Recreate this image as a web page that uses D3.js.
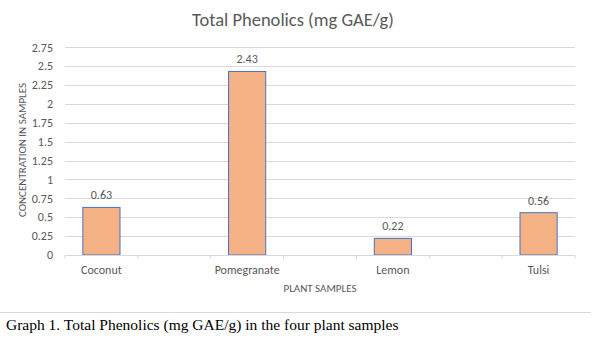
<!DOCTYPE html>
<html><head><meta charset="utf-8">
<script src="https://cdn.jsdelivr.net/npm/d3@7/dist/d3.min.js"></script>
<style>body{margin:0;background:#fff}svg{display:block}</style>
</head><body>
<svg id="c" width="600" height="340"></svg>
<script>
const categories = ["Coconut", "", "Pomegranate", "", "Lemon", "", "Tulsi"];
const values = [0.63, null, 2.43, null, 0.22, null, 0.56];
const yTicks = [0, 0.25, 0.5, 0.75, 1, 1.25, 1.5, 1.75, 2, 2.25, 2.5, 2.75];
const yTickLabels = ["0", "0.25", "0.5", "0.75", "1", "1.25", "1.5", "1.75", "2", "2.25", "2.5", "2.75"];
const valueLabels = ["0.63", "", "2.43", "", "0.22", "", "0.56"];

const svg = d3.select("#c");
const font = "Carlito, Lato, 'Open Sans', 'Liberation Sans', sans-serif";
const grey = "#595959";
const pL = 65, pR = 575, pT = 47.3, pB = 255;

const x = d3.scaleBand().domain(d3.range(categories.length)).range([pL, pR]).paddingInner(0).paddingOuter(0);
const y = d3.scaleLinear().domain([0, 2.75]).range([pB, pT]);

// gridlines
svg.append("g").selectAll("line").data(yTicks.slice(1)).join("line")
  .attr("x1", pL).attr("x2", pR)
  .attr("y1", d => Math.round(y(d)) + 0.5).attr("y2", d => Math.round(y(d)) + 0.5)
  .attr("stroke", "#d9d9d9").attr("stroke-width", 1);

// y tick labels
svg.append("g").selectAll("text").data(yTicks).join("text")
  .attr("x", 53).attr("y", d => y(d)).attr("dy", "0.35em")
  .attr("text-anchor", "end").attr("font-family", font).attr("font-size", 12)
  .attr("fill", grey).text((d, i) => yTickLabels[i]);

// bars
const bw = x.bandwidth() * 0.51;
svg.append("g").selectAll("rect").data(values.map((v, i) => ({v, i})).filter(d => d.v !== null)).join("rect")
  .attr("x", d => x(d.i) + (x.bandwidth() - bw) / 2)
  .attr("y", d => y(d.v))
  .attr("width", bw)
  .attr("height", d => y(0) - y(d.v))
  .attr("fill", "#f4b183").attr("stroke", "#4472c4").attr("stroke-width", 1);

// x axis line + ticks
const xa = svg.append("g");
xa.append("line").attr("x1", pL).attr("x2", pR).attr("y1", pB + 0.5).attr("y2", pB + 0.5)
  .attr("stroke", "#d9d9d9");
const bounds = d3.range(categories.length + 1).map(i => i < categories.length ? x(i) : pR);
xa.selectAll("line.t").data(bounds).join("line").attr("class", "t")
  .attr("x1", d => d).attr("x2", d => d).attr("y1", pB).attr("y2", pB + 4)
  .attr("stroke", "#d9d9d9");

// category labels
svg.append("g").selectAll("text").data(categories).join("text")
  .attr("x", (d, i) => x(i) + x.bandwidth() / 2).attr("y", 274)
  .attr("text-anchor", "middle").attr("font-family", font).attr("font-size", 12)
  .attr("fill", grey).text(d => d);

// value labels
svg.append("g").selectAll("text").data(values.map((v, i) => ({v, i})).filter(d => d.v !== null)).join("text")
  .attr("x", d => x(d.i) + x.bandwidth() / 2).attr("y", d => y(d.v) - 8)
  .attr("text-anchor", "middle").attr("font-family", font).attr("font-size", 12)
  .attr("fill", grey).text(d => valueLabels[d.i]);

// title
svg.append("text").attr("x", 293).attr("y", 26).attr("text-anchor", "middle")
  .attr("font-family", font).attr("font-size", 18.5).attr("fill", grey)
  .text("Total Phenolics (mg GAE/g)");

// axis titles
svg.append("text").attr("transform", "translate(26,150) rotate(-90)").attr("text-anchor", "middle")
  .attr("font-family", font).attr("font-size", 11).attr("fill", grey)
  .text("CONCENTRATION IN SAMPLES");
svg.append("text").attr("x", 320).attr("y", 292).attr("text-anchor", "middle")
  .attr("font-family", font).attr("font-size", 11).attr("fill", grey)
  .text("PLANT SAMPLES");

// chart border bottom
svg.append("line").attr("x1", 0).attr("x2", 591).attr("y1", 312.5).attr("y2", 312.5)
  .attr("stroke", "#d9d9d9");

// caption
svg.append("text").attr("x", 6).attr("y", 330)
  .attr("font-family", "'Liberation Serif', 'Times New Roman', serif").attr("font-size", 15.5)
  .attr("fill", "#000").text("Graph 1. Total Phenolics (mg GAE/g) in the four plant samples");
</script>
</body></html>
